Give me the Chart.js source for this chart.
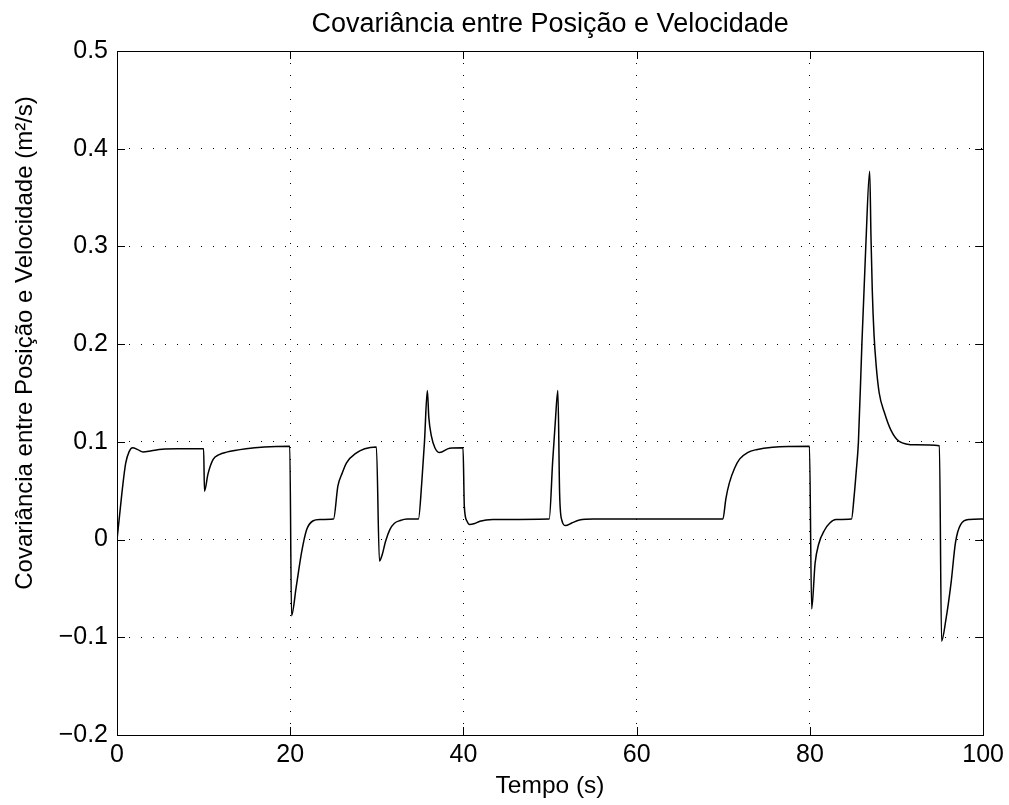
<!DOCTYPE html>
<html>
<head>
<meta charset="utf-8">
<script src="https://cdn.jsdelivr.net/npm/chart.js@4.4.0/dist/chart.umd.min.js"></script>
<style>
html,body{margin:0;padding:0;background:#fff;}
#wrap{width:1009px;height:805px;position:relative;}
</style>
</head>
<body>
<div id="wrap"><canvas id="c" width="1009" height="805"></canvas></div>
<script>
const chartTitle = 'Covariância entre Posição e Velocidade';
const xAxisLabel = 'Tempo (s)';
const yAxisLabel = 'Covariância entre Posição e Velocidade (m²/s)';
const xTickValues = [0, 20, 40, 60, 80, 100];
const yTickValues = [-0.2, -0.1, 0, 0.1, 0.2, 0.3, 0.4, 0.5];

const timeValues = [
  0, 0.3, 0.66, 1.0, 1.4, 1.8, 2.4, 3.0, 4.0, 5.2, 7, 10.0,
  10.1, 10.5, 11.1, 11.8, 12.65, 14.9, 17, 19.95,
  20.15, 20.7, 21.3, 21.9, 22.6, 23.4, 25.0,
  25.5, 26.0, 26.5, 27.65, 28.6, 29.95,
  30.3, 30.6, 31.0, 31.5, 32.0, 32.7, 33.5, 34.8,
  35.2, 35.5, 35.83, 36.0, 36.3, 36.7, 37.25, 38.4, 39.95,
  40.1, 40.4, 40.7, 41.3, 41.9, 43.4, 49.9,
  50.3, 50.6, 50.9, 51.1, 51.35, 51.8, 52.5, 53.4, 55, 69.95,
  70.3, 70.7, 71.3, 71.9, 72.8, 73.8, 75.7, 79.95,
  80.2, 80.6, 81.0, 81.7, 82.3, 83.0, 84.8,
  85.1, 85.35, 85.6, 86.0, 86.45, 86.9, 87.05, 87.2, 87.4, 87.65, 88.0, 88.6, 89.35, 90.3, 92.2, 94.95,
  95.2, 95.7, 96.3, 96.8, 97.4, 98.4, 100
];
const covValues = [
  0, 0.025, 0.055, 0.078, 0.09, 0.094, 0.092, 0.0897, 0.091, 0.0925, 0.093, 0.093,
  0.0495, 0.067, 0.082, 0.087, 0.0895, 0.093, 0.0948, 0.0955,
  -0.078, -0.048, -0.0136, 0.0102, 0.019, 0.0205, 0.021,
  0.0546, 0.068, 0.0785, 0.0887, 0.093, 0.0948,
  -0.022, -0.016, -0.002, 0.0102, 0.0165, 0.0195, 0.021, 0.021,
  0.06, 0.1, 0.1525, 0.125, 0.1058, 0.094, 0.089, 0.0935, 0.094,
  0.034, 0.019, 0.0154, 0.0165, 0.0188, 0.0205, 0.021,
  0.08, 0.12, 0.1525, 0.048, 0.02, 0.0143, 0.017, 0.02, 0.021, 0.021,
  0.042, 0.058, 0.073, 0.0826, 0.089, 0.092, 0.0945, 0.0955,
  -0.071, -0.024, -0.005, 0.0098, 0.017, 0.0205, 0.021,
  0.044, 0.07, 0.1, 0.2, 0.3, 0.377, 0.31, 0.255, 0.21, 0.178, 0.15, 0.13, 0.112, 0.1006, 0.097, 0.096,
  -0.104, -0.082, -0.044, -0.0034, 0.0154, 0.0205, 0.021
];

const FONT = "'Liberation Sans', Arial, Helvetica, sans-serif";

const boxPlugin = {
  id: 'boxPlugin',
  afterDraw(chart) {
    const {ctx, chartArea: a, scales: {x, y}} = chart;
    ctx.save();
    ctx.strokeStyle = '#000';
    ctx.lineWidth = 1;
    const tl = 8;
    ctx.beginPath();
    xTickValues.forEach(v => {
      const p = Math.round(x.getPixelForValue(v)) + 0.5;
      ctx.moveTo(p, a.bottom); ctx.lineTo(p, a.bottom - tl);
      ctx.moveTo(p, a.top); ctx.lineTo(p, a.top + tl);
    });
    yTickValues.forEach(v => {
      const p = Math.round(y.getPixelForValue(v)) + 0.5;
      ctx.moveTo(a.left, p); ctx.lineTo(a.left + tl, p);
      ctx.moveTo(a.right, p); ctx.lineTo(a.right - tl, p);
    });
    ctx.stroke();
    ctx.strokeRect(Math.round(a.left) + 0.5, Math.round(a.top) + 0.5,
                   Math.round(a.right - a.left), Math.round(a.bottom - a.top));
    ctx.fillStyle = '#000';
    ctx.textAlign = 'center';
    ctx.textBaseline = 'middle';
    // title centred over the plot area
    ctx.font = "27px " + FONT;
    ctx.fillText(chartTitle, (a.left + a.right) / 2, 25);
    // y axis label (positioned as in the reference)
    ctx.translate(25, 343);
    ctx.rotate(-Math.PI / 2);
    ctx.font = "24px " + FONT;
    ctx.fillText(yAxisLabel, 0, 0);
    ctx.restore();
  }
};

new Chart(document.getElementById('c'), {
  type: 'line',
  data: {
    datasets: [{
      data: timeValues.map((t, i) => ({x: t, y: covValues[i]})),
      borderColor: '#000',
      borderWidth: 1.5,
      pointRadius: 0,
      fill: false,
      cubicInterpolationMode: 'monotone'
    }]
  },
  options: {
    responsive: false,
    animation: false,
    layout: {padding: {top: 51, right: 25, bottom: 0, left: 0}},
    plugins: {
      legend: {display: false},
      tooltip: {enabled: false},
      title: {display: false}
    },
    scales: {
      x: {
        type: 'linear',
        min: 0, max: 100,
        afterBuildTicks: s => { s.ticks = xTickValues.map(v => ({value: v})); },
        afterFit: s => { s.height = 70; },
        ticks: {
          color: '#000', padding: 5,
          font: {family: FONT, size: 25},
          maxRotation: 0,
          callback: v => String(v)
        },
        grid: {
          color: '#000', lineWidth: 1, drawTicks: false
        },
        border: {display: false, dash: [1, 11]},
        title: {
          display: true, text: xAxisLabel, color: '#000',
          font: {family: FONT, size: 24.5}, padding: {top: 0, bottom: 4}
        }
      },
      y: {
        type: 'linear',
        min: -0.2, max: 0.5,
        afterBuildTicks: s => { s.ticks = yTickValues.map(v => ({value: v})); },
        afterFit: s => { s.width = 117; },
        ticks: {
          color: '#000', padding: 9,
          font: {family: FONT, size: 25},
          callback: v => {
            const r = Math.round(v * 10) / 10;
            if (r === 0) return '0';
            return r.toFixed(1).replace('-', '\u2212');
          }
        },
        grid: {
          color: '#000', lineWidth: 1, drawTicks: false
        },
        border: {display: false, dash: [1, 11]},
        title: {display: false}
      }
    }
  },
  plugins: [boxPlugin]
});
</script>
</body>
</html>
